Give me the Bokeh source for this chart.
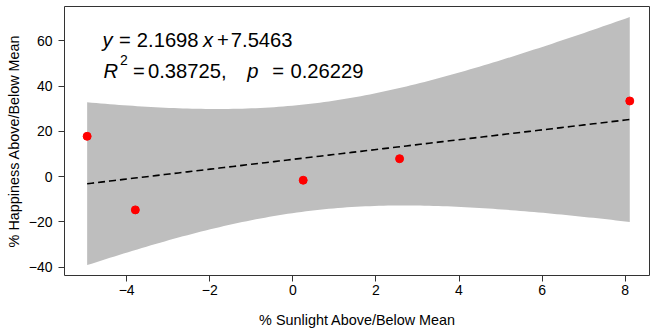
import numpy as np
from bokeh.plotting import figure
from bokeh.models import Range1d, FixedTicker, Label
from bokeh.embed import file_html
from bokeh.resources import INLINE

# ---- data ----
sunlight = [-4.95, -3.79, 0.25, 2.57, 8.11]      # % Sunlight above/below mean
happiness = [17.8, -14.7, -1.6, 7.9, 33.4]       # % Happiness above/below mean
x_ticks = [-4, -2, 0, 2, 4, 6, 8]
y_ticks = [-40, -20, 0, 20, 40, 60]
eq_line1 = [("y", "italic"), ("=", "normal"), ("2.1698", "normal"),
            ("x", "italic"), ("+", "normal"), ("7.5463", "normal")]
eq_line2 = [("R", "italic"), ("=", "normal"), ("0.38725,", "normal"),
            ("p", "italic"), ("=", "normal"), ("0.26229", "normal")]
r2_sup = "2"
x_title = "% Sunlight Above/Below Mean"
y_title = "% Happiness Above/Below Mean"

# ---- linear fit and 95% confidence band (as in the original lm plot) ----
xs = np.array(sunlight)
ys = np.array(happiness)
n = len(xs)
slope, intercept = np.polyfit(xs, ys, 1)
grid = np.linspace(xs.min(), xs.max(), 120)
fit = intercept + slope * grid
resid = ys - (intercept + slope * xs)
s = np.sqrt(np.sum(resid ** 2) / (n - 2))
sxx = np.sum((xs - xs.mean()) ** 2)
t_crit = 3.182446  # t(0.975, df=3)
se = s * np.sqrt(1.0 / n + (grid - xs.mean()) ** 2 / sxx)
lower = fit - t_crit * se
upper = fit + t_crit * se

FONT = "Liberation Sans"
AX = "#333333"

p = figure(width=650, height=330,
           x_range=Range1d(-5.495, 8.609), y_range=Range1d(-43.68, 75.13),
           output_backend="svg", toolbar_location=None,
           min_border_left=64, min_border_right=0, min_border_top=6, min_border_bottom=55)
p.grid.visible = False
p.outline_line_color = AX
p.outline_line_width = 1
p.background_fill_color = "white"
p.border_fill_color = "white"

for ax, ticks, title in ((p.xaxis[0], x_ticks, x_title), (p.yaxis[0], y_ticks, y_title)):
    ax.ticker = FixedTicker(ticks=ticks, minor_ticks=[])
    ax.axis_line_color = None
    ax.major_tick_in = 0
    ax.major_tick_out = 6
    ax.major_tick_line_color = AX
    ax.minor_tick_line_color = None
    ax.major_label_text_font = FONT
    ax.major_label_text_font_size = "14px"
    ax.major_label_text_color = "black"
    ax.axis_label = title
    ax.axis_label_text_font = FONT
    ax.axis_label_text_font_size = "14.4px"
    ax.axis_label_text_font_style = "normal"
    ax.axis_label_text_color = "black"

p.xaxis.major_label_standoff = 3
p.xaxis.axis_label_standoff = 14
p.yaxis.major_label_standoff = 6
p.yaxis.major_label_orientation = "horizontal"
p.yaxis.axis_label_standoff = 4

p.varea(x=grid, y1=lower, y2=upper, fill_color="#BEBEBE", fill_alpha=1.0)
p.line(grid, fit, line_color="black", line_width=1.6, line_dash="7 4")
p.scatter(sunlight, happiness, size=8, fill_color="#FF0000", line_color="#FF0000")


# equation annotation (positions given in page pixels, converted to data units)
def dx(px):
    return (px - 292.3) / 41.55


def dy(py):
    return (176.3 - py) / 2.2667


line1_px = [102, 118.5, 136.3, 202.5, 216.5, 230.3]
line2_px = [103, 132.5, 147.5, 246.7, 271.7, 290]
for (txt, style), px in zip(eq_line1, line1_px):
    p.add_layout(Label(x=dx(px), y=dy(39.4), text=txt, text_font=FONT, text_font_style=style,
                       text_font_size="20.2px", text_color="black", text_baseline="alphabetic"))
for (txt, style), px in zip(eq_line2, line2_px):
    p.add_layout(Label(x=dx(px), y=dy(70.7), text=txt, text_font=FONT, text_font_style=style,
                       text_font_size="20.2px", text_color="black", text_baseline="alphabetic"))
p.add_layout(Label(x=dx(119.5), y=dy(59.7), text=r2_sup, text_font=FONT,
                   text_font_size="14px", text_color="black", text_baseline="alphabetic"))

open("out.html", "w").write(file_html(p, INLINE))
